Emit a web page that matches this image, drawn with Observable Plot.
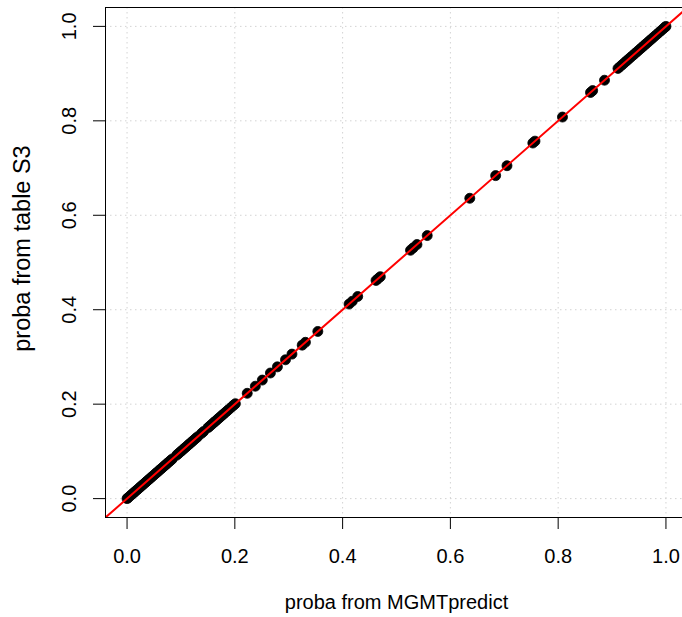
<!DOCTYPE html>
<html><head><meta charset="utf-8">
<script src="https://cdn.jsdelivr.net/npm/d3@7"></script>
<script src="https://cdn.jsdelivr.net/npm/@observablehq/plot@0.6"></script>
<style>html,body{margin:0;padding:0;overflow:hidden;background:#fff;width:682px;height:617px}
#chart svg{max-width:none !important}</style>
</head><body><div id="chart"></div>
<script>
// x: probability from MGMTpredict, y: probability from table S3
const mgmtPredict = [
  0.000,0.002,0.005,0.008,0.011,0.013,0.016,0.019,0.022,0.025,0.028,0.031,0.034,0.036,0.039,0.042,
  0.045,0.048,0.051,0.054,0.057,0.060,0.063,0.066,0.069,0.072,0.075,0.078,0.081,0.084,
  0.092,0.095,0.098,0.101,0.104,0.107,0.110,0.113,0.116,0.119,0.122,0.125,0.128,0.131,
  0.138,0.142,0.150,0.153,0.156,0.159,0.162,0.165,0.168,0.171,0.174,0.177,0.180,0.184,0.187,0.191,0.195,0.198,0.201,
  0.223,0.238,0.251,0.266,0.279,0.294,0.306,0.325,0.331,0.354,
  0.412,0.418,0.428,0.462,0.466,0.470,0.526,0.531,0.538,0.557,
  0.636,0.684,0.705,0.753,0.757,0.808,0.860,0.864,0.886,
  0.911,0.915,0.919,0.923,0.927,0.931,0.935,0.939,0.943,0.947,0.951,0.955,0.959,0.963,
  0.967,0.971,0.975,0.979,0.983,0.987,0.991,0.995,0.998,1.000
];
const tableS3 = [
  0.000,0.002,0.005,0.008,0.011,0.013,0.016,0.019,0.022,0.025,0.028,0.031,0.034,0.036,0.039,0.042,
  0.045,0.048,0.051,0.054,0.057,0.060,0.063,0.066,0.069,0.072,0.075,0.078,0.081,0.084,
  0.092,0.095,0.098,0.101,0.104,0.107,0.110,0.113,0.116,0.119,0.122,0.125,0.128,0.131,
  0.138,0.142,0.150,0.153,0.156,0.159,0.162,0.165,0.168,0.171,0.174,0.177,0.180,0.184,0.187,0.191,0.195,0.198,0.201,
  0.223,0.238,0.251,0.266,0.279,0.294,0.306,0.325,0.331,0.354,
  0.412,0.418,0.428,0.462,0.466,0.470,0.526,0.531,0.538,0.557,
  0.636,0.684,0.705,0.753,0.757,0.808,0.860,0.864,0.886,
  0.911,0.915,0.919,0.923,0.927,0.931,0.935,0.939,0.943,0.947,0.951,0.955,0.959,0.963,
  0.967,0.971,0.975,0.979,0.983,0.987,0.991,0.995,0.998,1.000
];
const tickValues = [0, 0.2, 0.4, 0.6, 0.8, 1.0];
const tickLabels = ["0.0", "0.2", "0.4", "0.6", "0.8", "1.0"];
const xTitle = "proba from MGMTpredict";
const yTitle = "proba from table S3";
const ablineIntercept = 0;
const ablineSlope = 1;

const points = mgmtPredict.map((x, i) => ({x, y: tableS3[i]}));
const dom = [-0.04, 1.04];
const lineData = dom.map(x => ({x, y: ablineIntercept + ablineSlope * x}));
const ticks = tickValues.map((v, i) => ({v, label: tickLabels[i]}));
const font = "'Liberation Sans', Arial, Helvetica, sans-serif";
const fs = 20;

const chart = Plot.plot({
  width: 687, height: 617,
  marginLeft: 105, marginRight: 0, marginTop: 7, marginBottom: 100,
  style: {fontFamily: font, fontSize: fs + "px", background: "white", overflow: "hidden", color: "black", maxWidth: "none"},
  x: {domain: dom, axis: null},
  y: {domain: dom, axis: null},
  marks: [
    Plot.ruleX(tickValues, {x: d => d, stroke: "#d3d3d3", strokeWidth: 1, strokeDasharray: "1.5,3.5"}),
    Plot.ruleY(tickValues, {y: d => d, stroke: "#d3d3d3", strokeWidth: 1, strokeDasharray: "1.5,3.5"}),
    Plot.dot(points, {x: "x", y: "y", r: 5, fill: "black", stroke: "black", strokeWidth: 0.8}),
    Plot.line(lineData, {x: "x", y: "y", stroke: "#ff0000", strokeWidth: 2, clip: true}),
    Plot.frame({stroke: "black", strokeWidth: 1}),
    Plot.ruleX(ticks, {x: "v", y1: dom[0], y2: dom[0], insetBottom: -12, stroke: "black"}),
    Plot.ruleY(ticks, {y: "v", x1: dom[0], x2: dom[0], insetLeft: -12, stroke: "black"}),
    Plot.text(ticks, {x: "v", frameAnchor: "bottom", dy: 45, text: "label", lineAnchor: "bottom", fontSize: fs, fill: "black"}),
    Plot.text(ticks, {y: "v", frameAnchor: "left", dx: -30, rotate: -90, text: "label", textAnchor: "middle", lineAnchor: "bottom", fontSize: fs, fill: "black"}),
    Plot.text([xTitle], {frameAnchor: "bottom", dy: 91, text: d => d, lineAnchor: "bottom", fontSize: fs, fill: "black"}),
    Plot.text([yTitle], {frameAnchor: "left", dx: -76, dy: -14, rotate: -90, text: d => d, textAnchor: "middle", lineAnchor: "bottom", fontSize: 23.5, fill: "black"})
  ]
});
document.getElementById("chart").appendChild(chart);
</script>
</body></html>
